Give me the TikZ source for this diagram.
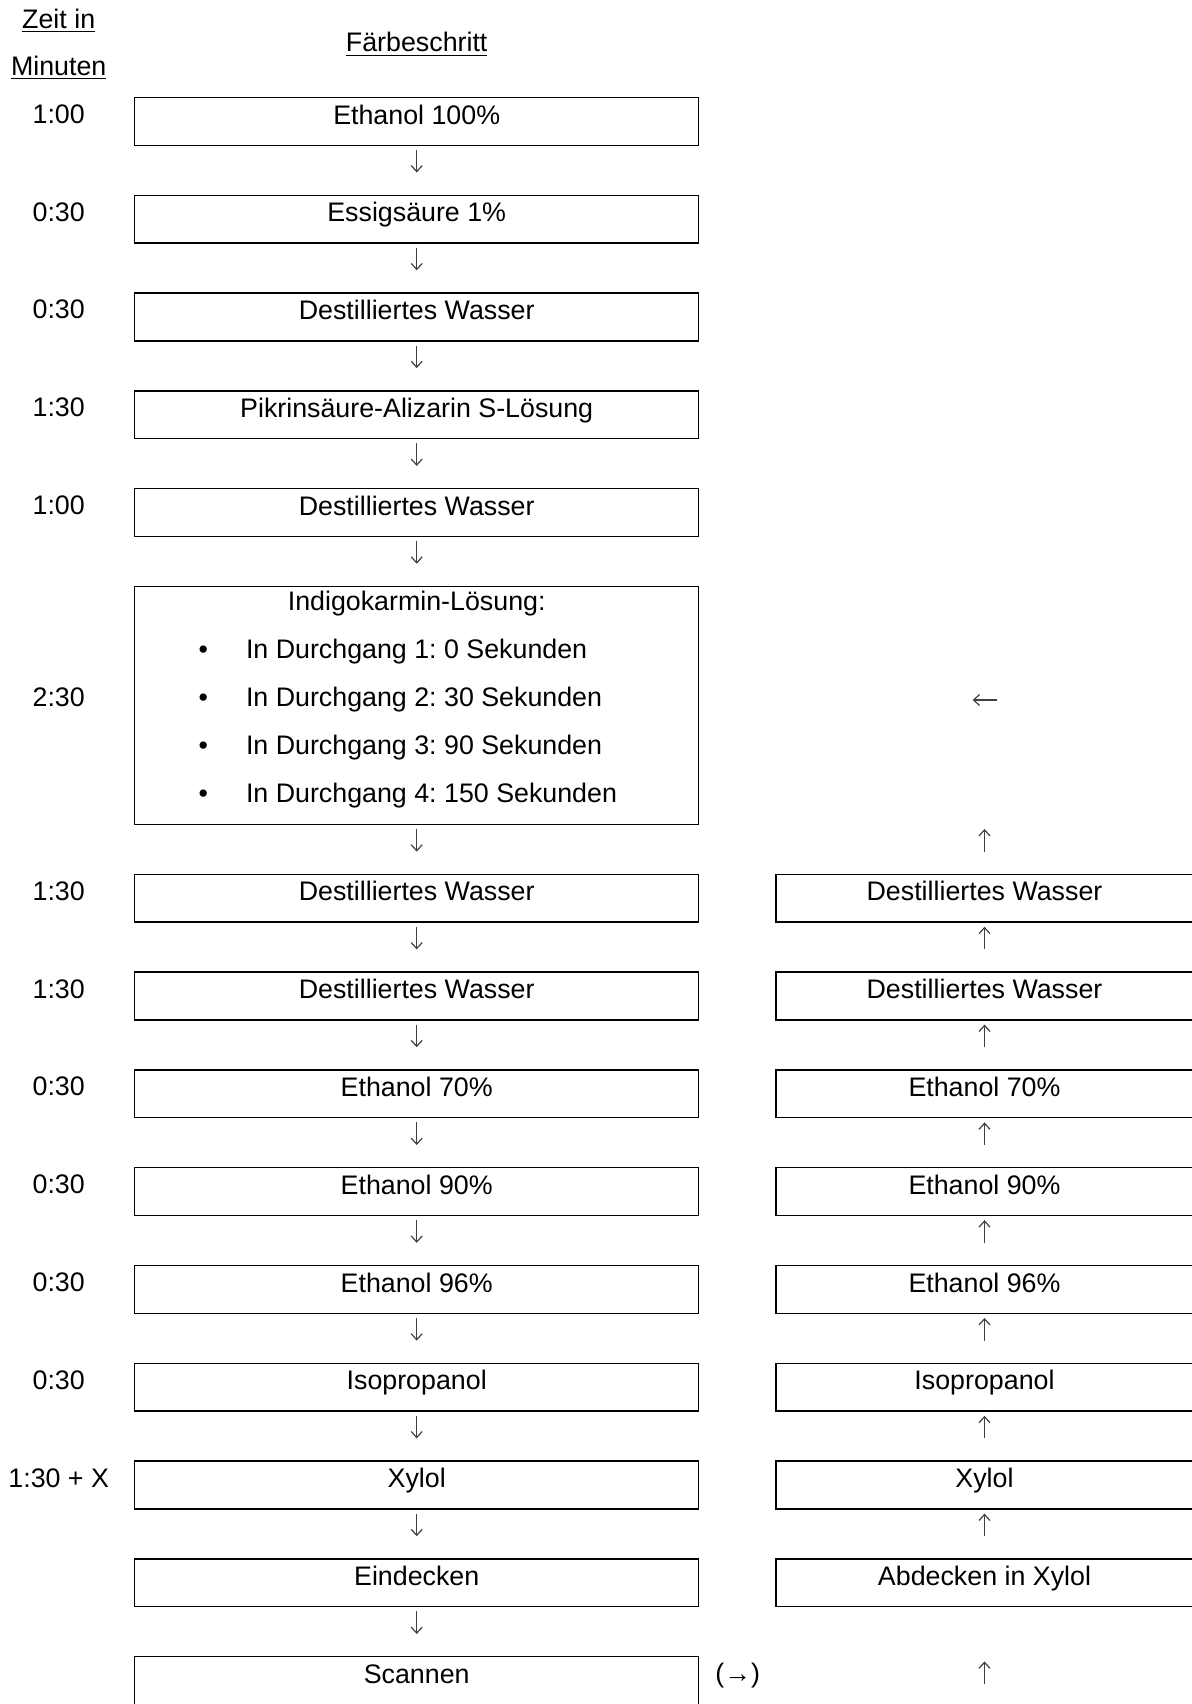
\documentclass[tikz,border=0pt]{standalone}
\usepackage{fontspec}
\setmainfont{Liberation Sans}
\usetikzlibrary{arrows.meta}
\begin{document}
\frenchspacing
\begin{tikzpicture}[x=0.5pt,y=-0.5pt]
\tikzset{
  lbl/.style={font=\fontsize{13.4}{15}\selectfont, inner sep=0pt, anchor=base},
  stepbox/.style={draw, line width=0.7pt, minimum width=282pt, minimum height=23.9pt,
     inner sep=0pt, text height=13.3pt, text depth=10.6pt, anchor=north,
     font=\fontsize{13.4}{15}\selectfont},
  rbox/.style={stepbox, minimum width=208.7pt},
  arrbase/.style={-{Straight Barb[length=3pt,width=5.5pt]}, line width=0.6pt, draw=black!75},
  dn/.style={arrbase, shorten <=2pt, shorten >=11pt},
  upa/.style={arrbase, shorten <=11pt, shorten >=2pt}
}
\path[use as bounding box] (0,0) rectangle (1192,1704);
\clip (0,0) rectangle (1192,1704);

% headers
\node[lbl] (hz1) at (58.7,28.0) {\underline{Zeit in}};
\node[lbl] (hz2) at (58.7,75.8) {\underline{Minuten}};
\node[lbl] (hf) at (416.7,51.9) {\underline{Färbeschritt}};

% left column boxes
\node[stepbox] (l1) at (416.7,96.7) {Ethanol 100\%};
\node[stepbox] (l2) at (416.7,194.5) {Essigsäure 1\%};
\node[stepbox] (l3) at (416.7,292.3) {Destilliertes Wasser};
\node[stepbox] (l4) at (416.7,390.1) {Pikrinsäure-Alizarin S-Lösung};
\node[stepbox] (l5) at (416.7,487.9) {Destilliertes Wasser};
\node[draw, line width=0.7pt, minimum width=282pt, minimum height=118.95pt, inner sep=0pt, anchor=north] (ind) at (416.7,585.7) {};
\node[stepbox] (l7) at (416.7,873.6) {Destilliertes Wasser};
\node[stepbox] (l8) at (416.7,971.4) {Destilliertes Wasser};
\node[stepbox] (l9) at (416.7,1069.2) {Ethanol 70\%};
\node[stepbox] (l10) at (416.7,1167.0) {Ethanol 90\%};
\node[stepbox] (l11) at (416.7,1264.8) {Ethanol 96\%};
\node[stepbox] (l12) at (416.7,1362.6) {Isopropanol};
\node[stepbox] (l13) at (416.7,1460.4) {Xylol};
\node[stepbox] (l14) at (416.7,1558.2) {Eindecken};
\node[stepbox, text depth=20pt, minimum height=33.3pt] (l15) at (416.7,1656.0) {Scannen};

% indigo contents
\node[lbl] (it) at (416.7,610.9) {Indigokarmin-Lösung:};
\node[lbl] (b1) at (203.2,658.7) {•};
\node[lbl] (b2) at (203.2,706.5) {•};
\node[lbl] (b3) at (203.2,754.3) {•};
\node[lbl] (b4) at (203.2,802.1) {•};
\node[lbl, anchor=base west] (i1) at (245.6,658.7) {In Durchgang 1: 0 Sekunden};
\node[lbl, anchor=base west] (i2) at (245.6,706.5) {In Durchgang 2: 30 Sekunden};
\node[lbl, anchor=base west] (i3) at (245.6,754.3) {In Durchgang 3: 90 Sekunden};
\node[lbl, anchor=base west] (i4) at (245.6,802.1) {In Durchgang 4: 150 Sekunden};

% right column boxes
\node[rbox] (r7) at (984.5,873.6) {Destilliertes Wasser};
\node[rbox] (r8) at (984.5,971.4) {Destilliertes Wasser};
\node[rbox] (r9) at (984.5,1069.2) {Ethanol 70\%};
\node[rbox] (r10) at (984.5,1167.0) {Ethanol 90\%};
\node[rbox] (r11) at (984.5,1264.8) {Ethanol 96\%};
\node[rbox] (r12) at (984.5,1362.6) {Isopropanol};
\node[rbox] (r13) at (984.5,1460.4) {Xylol};
\node[rbox] (r14) at (984.5,1558.2) {Abdecken in Xylol};

% times
\node[lbl] (t1) at (58.7,123.3) {1:00};
\node[lbl] (t2) at (58.7,221.1) {0:30};
\node[lbl] (t3) at (58.7,318.9) {0:30};
\node[lbl] (t4) at (58.7,416.7) {1:30};
\node[lbl] (t5) at (58.7,514.5) {1:00};
\node[lbl] (t6) at (58.7,706.5) {2:30};
\node[lbl] (t7) at (58.7,900.2) {1:30};
\node[lbl] (t8) at (58.7,998.0) {1:30};
\node[lbl] (t9) at (58.7,1095.8) {0:30};
\node[lbl] (t10) at (58.7,1193.6) {0:30};
\node[lbl] (t11) at (58.7,1291.4) {0:30};
\node[lbl] (t12) at (58.7,1389.2) {0:30};
\node[lbl] (t13) at (58.7,1487.0) {1:30 + X};

% scan side label
\node[lbl] (sa) at (737.8,1682.6) {(→)};

% left arrows
\draw[dn] (l1.south) -- (l2.north);
\draw[dn] (l2.south) -- (l3.north);
\draw[dn] (l3.south) -- (l4.north);
\draw[dn] (l4.south) -- (l5.north);
\draw[dn] (l5.south) -- (ind.north);
\draw[dn] (ind.south) -- (l7.north);
\draw[dn] (l7.south) -- (l8.north);
\draw[dn] (l8.south) -- (l9.north);
\draw[dn] (l9.south) -- (l10.north);
\draw[dn] (l10.south) -- (l11.north);
\draw[dn] (l11.south) -- (l12.north);
\draw[dn] (l12.south) -- (l13.north);
\draw[dn] (l13.south) -- (l14.north);
\draw[dn] (l14.south) -- (l15.north);

% right arrows
\coordinate (rtop) at (r7.north |- ind.south);
\draw[upa] (r7.north) -- (rtop);
\draw[upa] (r8.north) -- (r7.south);
\draw[upa] (r9.north) -- (r8.south);
\draw[upa] (r10.north) -- (r9.south);
\draw[upa] (r11.north) -- (r10.south);
\draw[upa] (r12.north) -- (r11.south);
\draw[upa] (r13.north) -- (r12.south);
\draw[upa] (r14.north) -- (r13.south);
\coordinate (rbot) at (984.5,1684);
\draw[arrbase, shorten >=27pt] (rbot) -- (r14.south);

% left-pointing arrow
\coordinate (la) at (997.3,700.0);
\coordinate (lb) at (972.7,700.0);
\draw[arrbase] (la) -- (lb);
\end{tikzpicture}
\end{document}
